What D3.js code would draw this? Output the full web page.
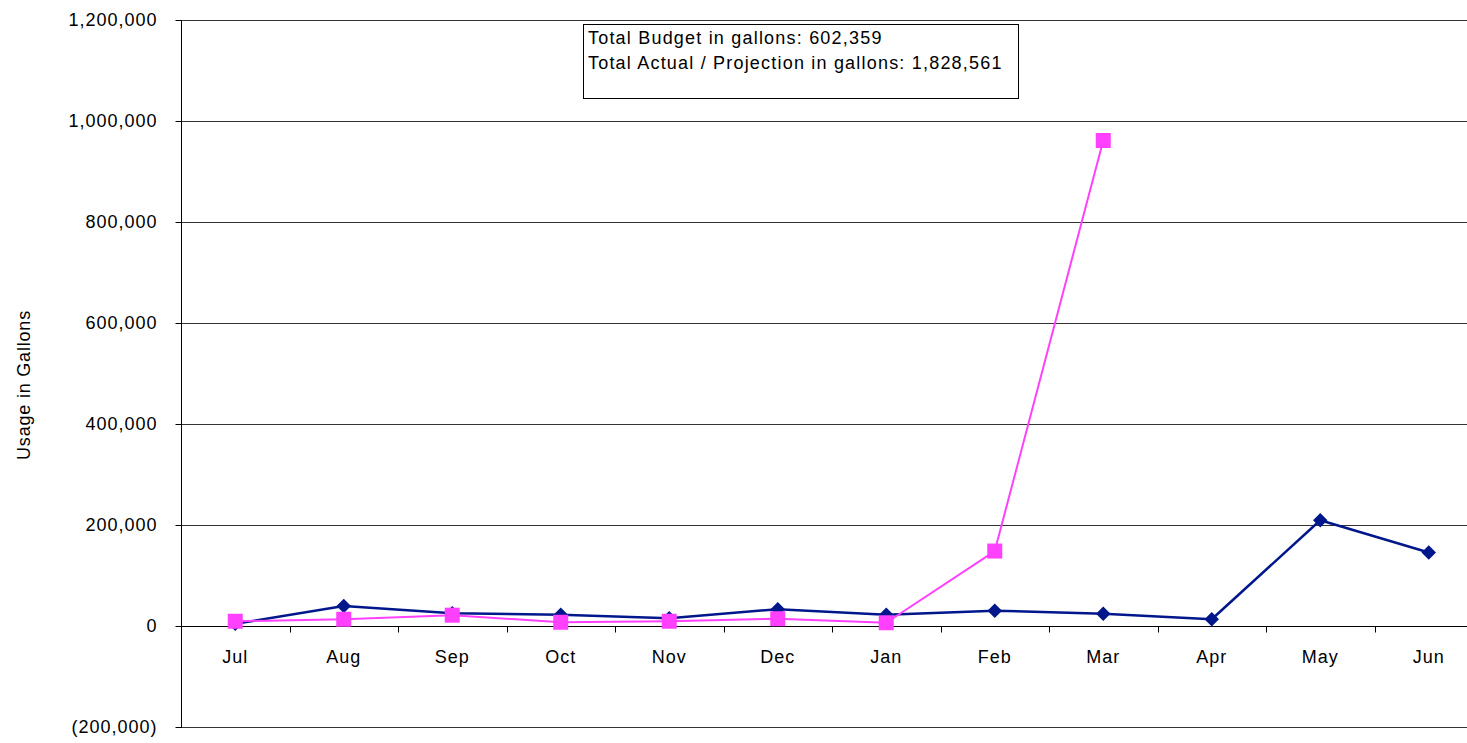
<!DOCTYPE html>
<html>
<head>
<meta charset="utf-8">
<script src="https://cdn.jsdelivr.net/npm/d3@7"></script>
<style>
  body { margin: 0; background: #fff; }
  svg { display: block; font-family: "Liberation Sans", Arial, sans-serif; }
</style>
</head>
<body>
<div id="chart"></div>
<script>
;(function() {
  "use strict";

  // Data
  // ---------------------------------------------------------------------------
  var months = ["Jul", "Aug", "Sep", "Oct", "Nov", "Dec", "Jan", "Feb", "Mar", "Apr", "May", "Jun"];
  var budget = [5000, 40000, 26000, 23000, 16000, 34000, 23000, 31000, 25000, 14000, 210000, 146000];
  var actual = [10000, 14000, 22000, 8000, 10000, 15000, 7000, 149000, 962000, null, null, null];
  var yTicks = [-200000, 0, 200000, 400000, 600000, 800000, 1000000, 1200000];
  var notes = ["Total Budget in gallons: 602,359", "Total Actual / Projection in gallons: 1,828,561"];

  var blue = "#00178c", pink = "#ff40ff";

  // Dimensions
  // ---------------------------------------------------------------------------
  var W = 1467, H = 743;
  var left = 181, step = 108.5;
  var right = left + step * months.length;

  var svg = d3.select("#chart").append("svg")
    .attr("width", W)
    .attr("height", H);

  var x = d3.scaleBand()
    .domain(months)
    .range([left, right])
    .padding(0);

  var y = d3.scaleLinear()
    .domain([-200000, 1200000])
    .range([727.3, 20.3]);

  var fmt = d3.format(",");
  function fmtY(d) { return d < 0 ? "(" + fmt(-d) + ")" : fmt(d); }

  // Gridlines
  // ---------------------------------------------------------------------------
  svg.append("g")
    .selectAll("line")
    .data(yTicks)
    .enter().append("line")
      .attr("x1", left)
      .attr("x2", right)
      .attr("y1", function(d) { return Math.round(y(d)) + 0.5; })
      .attr("y2", function(d) { return Math.round(y(d)) + 0.5; })
      .attr("stroke", function(d) { return (d === 0) ? "#000" : "#333"; })
      .attr("stroke-width", 1);

  // Y axis
  // ---------------------------------------------------------------------------
  var yAxis = svg.append("g")
    .attr("transform", "translate(" + (left + 0.5) + ",0)")
    .call(d3.axisLeft(y)
      .tickValues(yTicks)
      .tickSize(6)
      .tickPadding(18)
      .tickFormat(fmtY));

  yAxis.select(".domain").remove();
  yAxis.selectAll(".tick").attr("transform", function(d) {
    return "translate(0," + (Math.round(y(d)) + 0.5) + ")";
  });
  yAxis.selectAll(".tick line").attr("stroke", "#000");
  yAxis.selectAll(".tick text")
    .attr("fill", "#000")
    .attr("font-size", 18)
    .attr("letter-spacing", 1)
    .attr("font-family", "Liberation Sans, Arial, sans-serif");

  svg.append("line")
    .attr("x1", left + 0.5).attr("x2", left + 0.5)
    .attr("y1", Math.round(y(1200000)))
    .attr("y2", Math.round(y(-200000)) + 1)
    .attr("stroke", "#000");

  // X axis (ticks between categories, labels at centres)
  // ---------------------------------------------------------------------------
  var zeroY = Math.round(y(0)) + 0.5;

  svg.append("g")
    .selectAll("line")
    .data(months)
    .enter().append("line")
      .attr("x1", function(d) { return Math.round(x(d) + x.bandwidth()) + 0.5; })
      .attr("x2", function(d) { return Math.round(x(d) + x.bandwidth()) + 0.5; })
      .attr("y1", zeroY)
      .attr("y2", zeroY + 6)
      .attr("stroke", "#000");

  svg.append("g")
    .selectAll("text")
    .data(months)
    .enter().append("text")
      .attr("x", function(d) { return x(d) + x.bandwidth() / 2; })
      .attr("y", 663)
      .attr("text-anchor", "middle")
      .attr("font-size", 18)
      .attr("letter-spacing", 1)
      .attr("fill", "#000")
      .text(function(d) { return d; });

  // Y axis title
  svg.append("text")
    .attr("transform", "translate(30,385) rotate(-90)")
    .attr("text-anchor", "middle")
    .attr("font-size", 18)
    .attr("letter-spacing", 0.8)
    .attr("fill", "#000")
    .text("Usage in Gallons");

  // Series
  // ---------------------------------------------------------------------------
  function cx(i) { return x(months[i]) + x.bandwidth() / 2; }

  var line = d3.line()
    .defined(function(d) { return d != null; })
    .x(function(d, i) { return cx(i); })
    .y(function(d) { return y(d); });

  svg.append("path")
    .datum(budget)
    .attr("d", line)
    .attr("fill", "none")
    .attr("stroke", blue)
    .attr("stroke-width", 2.5)
    .attr("stroke-linejoin", "round");

  svg.append("g")
    .selectAll("path")
    .data(budget)
    .enter().append("path")
      .attr("d", d3.symbol().type(d3.symbolSquare).size(105))
      .attr("transform", function(d, i) {
        return "translate(" + cx(i) + "," + y(d) + ") rotate(45)";
      })
      .attr("fill", blue);

  svg.append("path")
    .datum(actual)
    .attr("d", line)
    .attr("fill", "none")
    .attr("stroke", pink)
    .attr("stroke-width", 2)
    .attr("stroke-linejoin", "round");

  svg.append("g")
    .selectAll("path")
    .data(actual.map(function(d, i) { return { v: d, i: i }; })
      .filter(function(d) { return d.v != null; }))
    .enter().append("path")
      .attr("d", d3.symbol().type(d3.symbolSquare).size(225))
      .attr("transform", function(d) {
        return "translate(" + cx(d.i) + "," + y(d.v) + ")";
      })
      .attr("fill", pink);

  // Annotation box
  // ---------------------------------------------------------------------------
  var note = svg.append("g").attr("transform", "translate(583,24)");

  note.append("rect")
    .attr("x", 0.5).attr("y", 0.5)
    .attr("width", 435).attr("height", 74)
    .attr("fill", "#fff")
    .attr("stroke", "#000");

  note.selectAll("text")
    .data(notes)
    .enter().append("text")
      .attr("x", 5)
      .attr("y", function(d, i) { return 20 + i * 25; })
      .attr("font-size", 18)
      .attr("letter-spacing", 1.2)
      .attr("fill", "#000")
      .text(function(d) { return d; });
})();
</script>
</body>
</html>
